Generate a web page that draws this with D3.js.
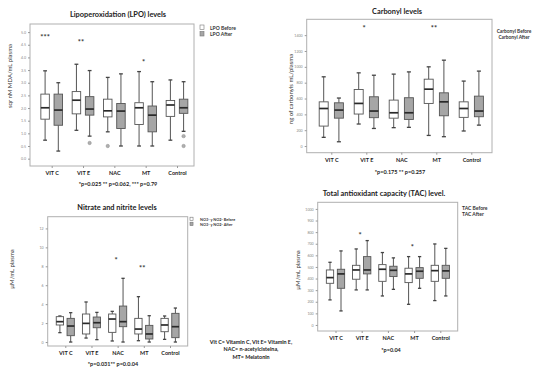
<!DOCTYPE html>
<html>
<head>
<meta charset="utf-8">
<script src="https://cdn.jsdelivr.net/npm/d3@7"></script>
<style>
  body { margin: 0; background: #fff; }
  svg { display: block; font-family: Lato, "Open Sans", sans-serif; }
</style>
</head>
<body>
<svg id="chart" width="550" height="373"></svg>
<script>
// categories
const groups = ["VIT C", "VIT E", "NAC", "MT", "Control"];

// box stats per group: [min, q1, median, q3, max]
const lpoBefore = [[0.73, 1.56, 2.01, 2.55, 3.47], [1.12, 1.77, 2.31, 2.65, 3.73], [1.06, 1.65, 1.89, 2.35, 3.21], [0.50, 1.35, 2.01, 2.21, 3.44], [0.73, 1.67, 2.12, 2.30, 3.11]];
const lpoAfter  = [[0.30, 1.32, 1.92, 2.55, 3.00], [0.89, 1.72, 1.96, 2.45, 3.48], [0.50, 1.19, 1.88, 2.18, 3.35], [0.50, 1.06, 1.72, 2.08, 3.04], [1.08, 1.79, 2.01, 2.35, 3.04]];
const lpoOutliers = [["NAC", 0, 0.50], ["VIT E", 1, 0.62], ["Control", 1, 0.89], ["Control", 1, 0.50]];
const lpoStars = [["VIT C", "***", 4.81], ["VIT E", "**", 4.60], ["MT", "*", 3.80]];
const lpoTicks = [0, 0.5, 1, 1.5, 2, 2.5, 3, 3.5, 4, 4.5, 5];

const carbBefore = [[110, 252, 474, 558, 874], [278, 404, 538, 714, 924], [232, 352, 420, 580, 908], [134, 538, 718, 844, 1000], [190, 362, 474, 558, 820]];
const carbAfter  = [[54, 352, 454, 546, 606], [222, 358, 442, 622, 894], [236, 336, 420, 610, 936], [118, 382, 558, 672, 1084], [264, 370, 442, 630, 946]];
const carbStars = [["VIT E", "*", 1492], ["MT", "**", 1492]];
const carbTicks = [0, 200, 400, 600, 800, 1000, 1200, 1400];

const noBefore = [[0.99, 1.80, 2.15, 2.68, 2.75], [0.42, 0.85, 1.97, 2.96, 4.23], [0.11, 1.02, 2.43, 2.96, 3.24], [0.14, 0.85, 1.37, 2.50, 4.79], [0.28, 1.09, 1.80, 2.50, 2.75]];
const noAfter  = [[0, 0.67, 1.69, 2.50, 3.10], [0.25, 1.51, 2.04, 2.64, 3.13], [0, 1.62, 2.15, 3.80, 6.73], [0, 0.32, 0.85, 1.76, 2.78], [0, 0.46, 1.62, 3.03, 3.59]];
const noStars = [["NAC", "*", 8.66], ["MT", "**", 7.78]];
const noTicks = [0, 2, 4, 6, 8, 10, 12];

const tacBefore = [[216, 359, 408, 474, 540], [302, 394, 474, 514, 655], [250, 376, 480, 520, 624], [178, 365, 440, 489, 589], [210, 376, 468, 514, 698]];
const tacAfter  = [[121, 316, 440, 480, 638], [302, 440, 474, 589, 727], [307, 417, 471, 506, 578], [316, 402, 463, 494, 589], [250, 402, 466, 514, 660]];
const tacStars = [["VIT E", "*", 770], ["MT", "*", 667]];
const tacTicks = [0, 100, 200, 300, 400, 500, 600, 700, 800, 900, 1000];

const svg = d3.select("#chart");

const panels = [
  {
    title: "Lipoperoxidation (LPO) levels", titleX: 118, titleY: 17,
    yLabel: "sqr nM MDA/mL plasma", yLabelX: 12, yLabelY: 76,
    frame: [30, 24, 194, 166], xRange: [51.7, 177], yDomain: [-0.29, 5.32],
    ticks: lpoTicks, fmt: d3.format(".1f"),
    before: lpoBefore, after: lpoAfter, outliers: lpoOutliers, stars: lpoStars,
    half: 6.6, boxW: 8.5,
    note: "*p=0.025 ** p=0.062, *** p=0.79", noteX: 118, noteY: 186,
    legend: ["LPO Before", "LPO After"], legX: 210, legY: [29.5, 36], legBox: true, legSize: 5
  },
  {
    title: "Carbonyl levels", titleX: 397, titleY: 14,
    yLabel: "ng of carbonyls mL/plasma", yLabelX: 293, yLabelY: 89,
    frame: [306.7, 19.3, 492, 152.7], xRange: [331.3, 471.3], yDomain: [-84, 1600],
    ticks: carbTicks, fmt: d3.format("d"),
    before: carbBefore, after: carbAfter, outliers: [], stars: carbStars,
    half: 7.6, boxW: 9,
    note: "*p=0.175 ** p=0.257", noteX: 400, noteY: 174,
    legend: ["Carbonyl Before", "Carbonyl After"], legX: 514, legY: [32.5, 38.5], legBox: false, legSize: 4.8, legAnchor: "middle"
  },
  {
    title: "Nitrate and nitrite levels", titleX: 117, titleY: 209.5,
    yLabel: "\u00b5M/mL plasma", yLabelX: 14, yLabelY: 269,
    frame: [47.7, 216.7, 187.7, 346], xRange: [65.3, 170], yDomain: [-0.42, 13.24],
    ticks: noTicks, fmt: d3.format("d"),
    before: noBefore, after: noAfter, outliers: [], stars: noStars,
    half: 5.4, boxW: 7.3,
    note: "*p=0.031** p=0.0.04", noteX: 113, noteY: 366,
    legend: ["NO3- y NO2- Before", "NO3- y NO2- After"], legX: 200, legY: [220.5, 225.5], legBox: true, legSize: 3.8
  },
  {
    title: "Total antioxidant capacity (TAC)  level.", titleX: 384, titleY: 196,
    yLabel: "\u00b5M/mL plasma", yLabelX: 300, yLabelY: 270,
    frame: [317.7, 202.3, 457.7, 331], xRange: [335.5, 440.3], yDomain: [-52, 1057],
    ticks: tacTicks, fmt: d3.format("d"),
    before: tacBefore, after: tacAfter, outliers: [], stars: tacStars,
    half: 5.5, boxW: 7.3,
    note: "*p=0.04", noteX: 391, noteY: 352,
    legend: ["TAC Before", "TAC After"], legX: 462, legY: [210, 216], legBox: false, legSize: 5
  }
];

panels.forEach(drawPanel);

function drawPanel(p) {
  const [x0, y0, x1, y1] = p.frame;
  const g = svg.append("g");

  const x = d3.scalePoint().domain(groups).range(p.xRange);
  const y = d3.scaleLinear().domain(p.yDomain).range([y1, y0]);

  // title
  g.append("text")
    .attr("x", p.titleX).attr("y", p.titleY)
    .attr("text-anchor", "middle")
    .attr("font-size", 7.4).attr("font-weight", "bold").attr("fill", "#222")
    .text(p.title);

  // frame
  g.append("rect")
    .attr("x", x0).attr("y", y0)
    .attr("width", x1 - x0).attr("height", y1 - y0)
    .attr("fill", "none").attr("stroke", "#b0b0b0").attr("stroke-width", 1);

  // y axis
  const yAxis = g.append("g")
    .attr("transform", `translate(${x0},0)`)
    .call(d3.axisLeft(y).tickValues(p.ticks).tickFormat(p.fmt).tickSize(2).tickPadding(2));
  yAxis.select(".domain").remove();
  yAxis.selectAll("line").attr("stroke", "#999");
  yAxis.selectAll("text").attr("font-size", 3.6).attr("fill", "#888").attr("font-family", "Lato, sans-serif");

  // x axis
  const xAxis = g.append("g")
    .attr("transform", `translate(0,${y1})`)
    .call(d3.axisBottom(x).tickSize(2).tickPadding(3));
  xAxis.select(".domain").remove();
  xAxis.selectAll("line").attr("stroke", "#999");
  xAxis.selectAll("text").attr("font-size", 5.5).attr("font-weight", "bold")
    .attr("fill", "#222").attr("font-family", "Lato, sans-serif");

  // y label
  g.append("text")
    .attr("transform", `translate(${p.yLabelX},${p.yLabelY}) rotate(-90)`)
    .attr("text-anchor", "middle")
    .attr("font-size", 6).attr("fill", "#333")
    .text(p.yLabel);

  // boxes
  const series = [
    { data: p.before, shift: -p.half, fill: "#ffffff" },
    { data: p.after, shift: p.half, fill: "#a6a6a6" }
  ];
  series.forEach(s => {
    s.data.forEach((st, i) => {
      const cx = x(groups[i]) + s.shift;
      const [mn, q1, md, q3, mx] = st;
      const bw = p.boxW;
      const cap = bw * 0.45;
      const bg = g.append("g");
      bg.append("line").attr("x1", cx).attr("x2", cx).attr("y1", y(mx)).attr("y2", y(q3))
        .attr("stroke", "#555").attr("stroke-width", 1);
      bg.append("line").attr("x1", cx).attr("x2", cx).attr("y1", y(q1)).attr("y2", y(mn))
        .attr("stroke", "#555").attr("stroke-width", 1);
      bg.append("line").attr("x1", cx - cap / 2).attr("x2", cx + cap / 2).attr("y1", y(mx)).attr("y2", y(mx))
        .attr("stroke", "#444").attr("stroke-width", 1.3);
      bg.append("line").attr("x1", cx - cap / 2).attr("x2", cx + cap / 2).attr("y1", y(mn)).attr("y2", y(mn))
        .attr("stroke", "#444").attr("stroke-width", 1.3);
      bg.append("rect").attr("x", cx - bw / 2).attr("y", y(q3))
        .attr("width", bw).attr("height", y(q1) - y(q3))
        .attr("fill", s.fill).attr("stroke", "#555").attr("stroke-width", 0.9);
      bg.append("line").attr("x1", cx - bw / 2).attr("x2", cx + bw / 2).attr("y1", y(md)).attr("y2", y(md))
        .attr("stroke", "#2a2a2a").attr("stroke-width", 1.7);
    });
  });

  // outliers
  g.selectAll(".outlier")
    .data(p.outliers)
    .join("circle")
    .attr("cx", d => x(d[0]) + (d[1] === 0 ? -p.half : p.half))
    .attr("cy", d => y(d[2]))
    .attr("r", 1.7)
    .attr("fill", "#b0b0b0").attr("stroke", "#8a8a8a").attr("stroke-width", 0.5);

  // significance stars
  g.selectAll(".star")
    .data(p.stars)
    .join("text")
    .attr("x", d => x(d[0]) - p.half + (d[1] === "***" ? 0 : p.half * 0.7))
    .attr("y", d => y(d[2]) + 2.8)
    .attr("text-anchor", "middle")
    .attr("font-size", 7.5).attr("font-weight", "bold").attr("fill", "#333")
    .text(d => d[1]);

  // footnote
  g.append("text")
    .attr("x", p.noteX).attr("y", p.noteY)
    .attr("text-anchor", "middle")
    .attr("font-size", 5.5).attr("font-weight", "bold").attr("fill", "#222")
    .text(p.note);

  // legend
  p.legend.forEach((t, i) => {
    if (p.legBox) {
      g.append("rect")
        .attr("x", p.legX - 10).attr("y", p.legY[i] - p.legSize + 0.5)
        .attr("width", p.legSize * 0.8).attr("height", p.legSize * 0.9)
        .attr("fill", i === 0 ? "#fff" : "#a6a6a6").attr("stroke", "#777").attr("stroke-width", 0.6);
    }
    g.append("text")
      .attr("x", p.legX).attr("y", p.legY[i])
      .attr("text-anchor", p.legAnchor || "start")
      .attr("font-size", p.legSize).attr("font-weight", "bold").attr("fill", "#333")
      .text(t);
  });
}

// abbreviations note
const abbrev = ["Vit C= Vitamin C, Vit E= Vitamin E,", "NAC= n-acetylcisteina,", "MT= Melatonin"];
svg.append("g").selectAll("text")
  .data(abbrev)
  .join("text")
  .attr("x", 251)
  .attr("y", (d, i) => 343.5 + i * 7.6)
  .attr("text-anchor", "middle")
  .attr("font-size", 5.4).attr("font-weight", "bold").attr("fill", "#222")
  .text(d => d);
</script>
</body>
</html>
